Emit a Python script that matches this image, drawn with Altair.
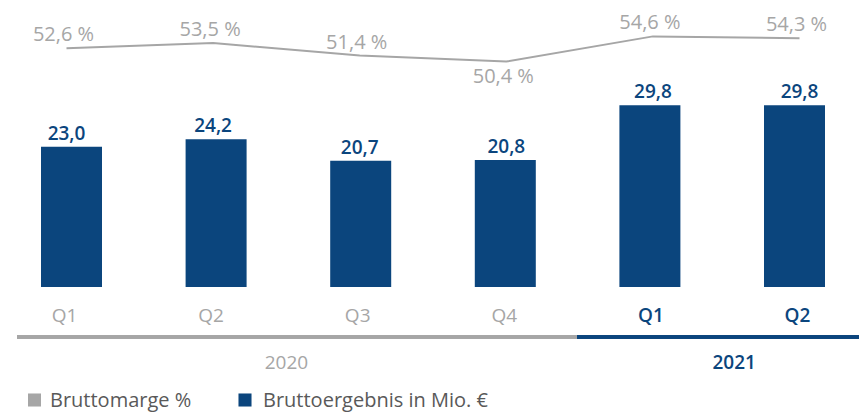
import altair as alt
import pandas as pd

quarters = ["Q1", "Q2", "Q3", "Q4", "Q1", "Q2"]
years = ["2020", "2020", "2020", "2020", "2021", "2021"]
bruttoergebnis = [23.0, 24.2, 20.7, 20.8, 29.8, 29.8]
bruttomarge = [52.6, 53.5, 51.4, 50.4, 54.6, 54.3]
legend_labels = ["Bruttomarge %", "Bruttoergebnis in Mio. €"]

BLUE = "#0b457d"
GRAY = "#a6a6a6"
FONT = "Open Sans"

df = pd.DataFrame({
    "idx": list(range(len(quarters))),
    "quarter": quarters,
    "year": years,
    "ergebnis": bruttoergebnis,
    "marge": bruttomarge,
})
df["ergebnis_lbl"] = [f"{v:.1f}".replace(".", ",") for v in bruttoergebnis]
df["marge_lbl"] = [f"{v:.1f} %".replace(".", ",") for v in bruttomarge]
df["marge_dy"] = [-15 if v != min(bruttomarge) else 15 for v in bruttomarge]

yr = df.groupby("year", as_index=False)["idx"].mean()

xs = alt.Scale(domain=[0, 5], range=[66.5, 799.5])
ybar = alt.Scale(domain=[0, 45.4], range=[287, 10])
yline = alt.Scale(domain=[12.8, 59], range=[287, 10])

base = alt.Chart(df)
X = alt.X("idx:Q", scale=xs, axis=None)

bars = base.mark_bar(size=61, color=BLUE).encode(
    x=X, y=alt.Y("ergebnis:Q", scale=ybar, axis=None),
)
bar_text = base.mark_text(dy=-13, font=FONT, fontSize=19, fontWeight=600, color=BLUE, baseline="middle").encode(
    x=X, y=alt.Y("ergebnis:Q", scale=ybar, axis=None), text="ergebnis_lbl:N",
)
line = base.mark_line(color=GRAY, strokeWidth=2).encode(
    x=X, y=alt.Y("marge:Q", scale=yline, axis=None),
)
line_text_up = base.transform_filter("datum.marge_dy < 0").mark_text(
    dy=-13, dx=-3, font=FONT, fontSize=20, color=GRAY, baseline="middle").encode(
    x=X, y=alt.Y("marge:Q", scale=yline, axis=None), text="marge_lbl:N",
)
line_text_down = base.transform_filter("datum.marge_dy > 0").mark_text(
    dy=15, dx=-3, font=FONT, fontSize=20, color=GRAY, baseline="middle").encode(
    x=X, y=alt.Y("marge:Q", scale=yline, axis=None), text="marge_lbl:N",
)
q_text_20 = base.transform_filter("datum.year == '2020'").mark_text(
    font=FONT, fontSize=19, baseline="middle", color=GRAY, dx=-2).encode(
    x=X, y=alt.value(316), text="quarter:N")
q_text_21 = base.transform_filter("datum.year == '2021'").mark_text(
    font=FONT, fontSize=19, fontWeight=600, baseline="middle", color=BLUE, dx=-2).encode(
    x=X, y=alt.value(316), text="quarter:N")

sep_gray = base.mark_rule(color=GRAY, strokeWidth=3).encode(
    x=alt.value(17), x2=alt.value(577), y=alt.value(337))
sep_blue = base.mark_rule(color=BLUE, strokeWidth=3).encode(
    x=alt.value(577), x2=alt.value(859), y=alt.value(337))

ybase = alt.Chart(yr)
year_20 = ybase.transform_filter("datum.year == '2020'").mark_text(
    font=FONT, fontSize=19, baseline="middle", color=GRAY).encode(
    x=X, y=alt.value(363), text="year:N")
year_21 = ybase.transform_filter("datum.year == '2021'").mark_text(
    font=FONT, fontSize=19, fontWeight=600, baseline="middle", color=BLUE, dx=8).encode(
    x=X, y=alt.value(363), text="year:N")

leg = pd.DataFrame({"label": legend_labels, "sx": [34.5, 245], "tx": [50, 263], "c": [GRAY, BLUE]})
leg_sq = alt.Chart(leg).mark_square(size=170, opacity=1).encode(
    x=alt.X("sx:Q", scale=None), y=alt.value(400),
    color=alt.Color("c:N", scale=None),
)
leg_txt = alt.Chart(leg).mark_text(font=FONT, fontSize=20, align="left", baseline="middle", color="#595959").encode(
    x=alt.X("tx:Q", scale=None), y=alt.value(401), text="label:N",
)

chart = alt.layer(
    bars, bar_text, line, line_text_up, line_text_down, q_text_20, q_text_21,
    sep_gray, sep_blue, year_20, year_21, leg_sq, leg_txt
).resolve_scale(y="independent", x="independent").properties(
    width=859, height=414, padding=0, autosize=alt.AutoSizeParams(type="none")
).configure_view(stroke=None)

chart.save("out.html", embed_options={"renderer": "svg", "actions": False})
